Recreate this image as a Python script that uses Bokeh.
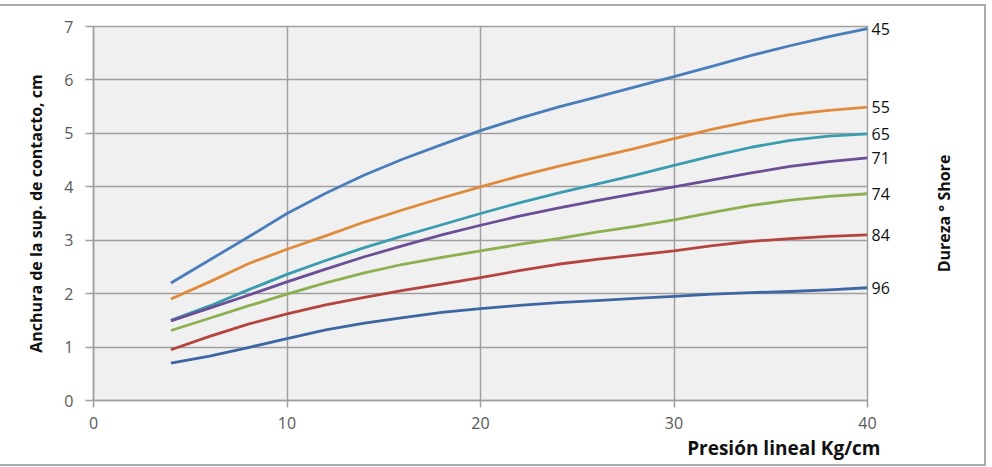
from bokeh.plotting import figure
from bokeh.layouts import row
from bokeh.models import Range1d, LinearAxis, FixedTicker, Title
from bokeh.embed import file_html
from bokeh.resources import INLINE

presion = [4, 6, 8, 10, 12, 14, 16, 18, 20, 22, 24, 26, 28, 30, 32, 34, 36, 38, 40]
d45 = [2.20, 2.63, 3.06, 3.50, 3.88, 4.22, 4.52, 4.79, 5.05, 5.28, 5.49, 5.68, 5.87, 6.06, 6.26, 6.46, 6.64, 6.81, 6.96]
d55 = [1.90, 2.22, 2.56, 2.83, 3.08, 3.34, 3.57, 3.79, 4.00, 4.20, 4.38, 4.55, 4.72, 4.90, 5.08, 5.23, 5.35, 5.43, 5.49]
d65 = [1.50, 1.77, 2.07, 2.36, 2.62, 2.86, 3.08, 3.29, 3.50, 3.70, 3.88, 4.05, 4.22, 4.40, 4.58, 4.74, 4.87, 4.95, 4.99]
d71 = [1.49, 1.73, 1.97, 2.22, 2.46, 2.69, 2.90, 3.10, 3.28, 3.45, 3.60, 3.74, 3.87, 4.00, 4.13, 4.26, 4.38, 4.47, 4.54]
d74 = [1.31, 1.54, 1.77, 1.99, 2.20, 2.39, 2.55, 2.68, 2.80, 2.92, 3.03, 3.15, 3.26, 3.38, 3.52, 3.65, 3.75, 3.82, 3.87]
d84 = [0.95, 1.20, 1.43, 1.62, 1.79, 1.93, 2.06, 2.18, 2.30, 2.43, 2.55, 2.64, 2.72, 2.80, 2.90, 2.98, 3.03, 3.07, 3.10]
d96 = [0.70, 0.83, 0.99, 1.16, 1.32, 1.45, 1.55, 1.65, 1.72, 1.78, 1.83, 1.87, 1.91, 1.95, 1.99, 2.02, 2.04, 2.07, 2.11]

dureza = ["45", "55", "65", "71", "74", "84", "96"]
series = [d45, d55, d65, d71, d74, d84, d96]
colors = ["#4A7EBB", "#E08A3C", "#3A9CAE", "#6B4E96", "#8CB050", "#B5443F", "#3D66A3"]

x_ticks = [0, 10, 20, 30, 40]
y_ticks = [0, 1, 2, 3, 4, 5, 6, 7]

FONT = "Open Sans"
GRID = "#A0A0A0"

p = figure(width=898, height=458, output_backend="svg", toolbar_location=None,
           x_range=Range1d(0, 40), y_range=Range1d(0, 7),
           min_border_left=93, min_border_right=31, min_border_top=20, min_border_bottom=64,
           background_fill_color="#F0F0F0", border_fill_color="white",
           outline_line_color=GRID, outline_line_width=1.5)

for vals, col in zip(series, colors):
    p.line(presion, vals, line_color=col, line_width=2.8, line_join="round")

p.xaxis.ticker = FixedTicker(ticks=x_ticks)
p.yaxis.ticker = FixedTicker(ticks=y_ticks)
for ax in (p.xaxis[0], p.yaxis[0]):
    ax.axis_line_color = GRID
    ax.axis_line_width = 1.5
    ax.major_tick_line_color = GRID
    ax.major_tick_line_width = 1.5
    ax.major_tick_in = 0
    ax.minor_tick_line_color = None
    ax.major_label_text_font = FONT
    ax.major_label_text_font_size = "16px"
    ax.major_label_text_color = "#595959"
p.xaxis.major_tick_out = 7
p.yaxis.major_tick_out = 8
p.xaxis.major_label_standoff = 9
p.yaxis.major_label_standoff = 12

p.yaxis.axis_label = "Anchura de la sup. de contacto, cm"
p.yaxis.axis_label_text_font = FONT
p.yaxis.axis_label_text_font_style = "bold"
p.yaxis.axis_label_text_font_size = "16px"
p.yaxis.axis_label_text_color = "#111111"
p.yaxis.axis_label_standoff = 14

p.xgrid.ticker = FixedTicker(ticks=x_ticks)
p.ygrid.ticker = FixedTicker(ticks=y_ticks)
p.xgrid.grid_line_color = GRID
p.ygrid.grid_line_color = GRID
p.xgrid.grid_line_width = 1.5
p.ygrid.grid_line_width = 1.5

xt = Title(text="Presión lineal Kg/cm", align="right", text_font=FONT,
           text_font_style="bold", text_font_size="19px", text_color="#111111",
           offset=-13, standoff=3)
p.add_layout(xt, "below")

# series names at the right end of each curve
end_vals = [s[-1] for s in series]
raxis = LinearAxis(ticker=FixedTicker(ticks=end_vals),
                   major_label_overrides={v: n for v, n in zip(end_vals, dureza)},
                   axis_line_color=None, major_tick_line_color=None,
                   major_tick_out=0, major_tick_in=0,
                   minor_tick_line_color=None, major_label_standoff=4,
                   major_label_text_font=FONT, major_label_text_font_size="16px",
                   major_label_text_color="#111111")
p.add_layout(raxis, "right")

# right-hand title panel (vertical text reading bottom to top)
p2 = figure(width=86, height=458, output_backend="svg", toolbar_location=None,
            x_range=Range1d(0, 1), y_range=Range1d(0, 1),
            min_border_left=60, min_border_right=5, min_border_top=20, min_border_bottom=64,
            background_fill_color="white", border_fill_color="white",
            outline_line_color=None)
p2.xaxis.visible = False
p2.xgrid.visible = False
p2.ygrid.visible = False
p2.yaxis.ticker = FixedTicker(ticks=[])
p2.yaxis.axis_line_color = None
p2.yaxis.major_tick_line_color = None
p2.yaxis.minor_tick_line_color = None
p2.yaxis.major_tick_out = 0
p2.yaxis.axis_label = "Dureza ° Shore"
p2.yaxis.axis_label_text_font = FONT
p2.yaxis.axis_label_text_font_style = "bold"
p2.yaxis.axis_label_text_font_size = "16px"
p2.yaxis.axis_label_text_color = "#111111"
p2.yaxis.axis_label_standoff = 4

layout = row(p, p2, spacing=0,
             styles={"margin-top": "4px", "border-top": "2px solid #ABABAB",
                     "border-right": "2px solid #ABABAB", "border-bottom": "2px solid #ABABAB"})

open("out.html", "w").write(file_html(layout, INLINE))
